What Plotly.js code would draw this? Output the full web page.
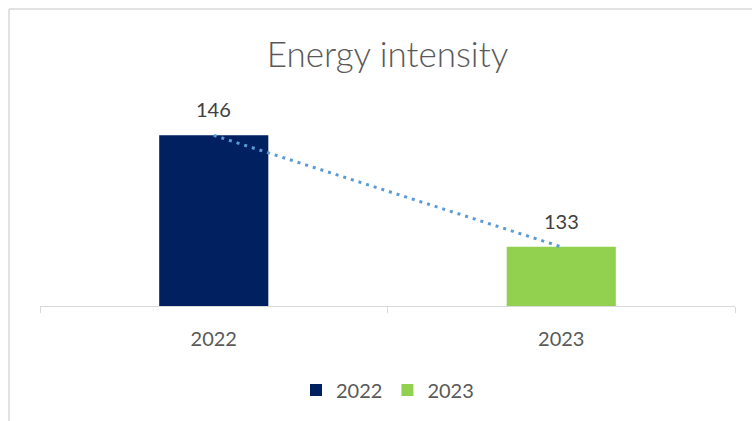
<!DOCTYPE html>
<html>
<head>
<meta charset="utf-8">
<script src="https://cdn.plot.ly/plotly-3.0.1.min.js"></script>
<style>
html,body{margin:0;padding:0;background:#fff;}
#chart{width:752px;height:421px;}
</style>
</head>
<body>
<div id="chart"></div>
<script>
const categories = ['2022', '2023'];
const values = [146, 133];
const barColors = ['#002060', '#92D050'];
const titleText = 'Energy intensity';

const FONT = 'Lato, "Open Sans", sans-serif';

const traces = categories.map((c, i) => ({
  type: 'bar',
  x: [c],
  y: [values[i]],
  name: c,
  marker: {color: barColors[i]},
  width: 0.314,
  hoverinfo: 'none'
}));

traces.push({
  type: 'scatter',
  mode: 'lines',
  x: categories,
  y: values,
  line: {color: '#5B9BD5', width: 3, dash: '3px,5px'},
  showlegend: false,
  hoverinfo: 'none'
});

const annotations = categories.map((c, i) => ({
  x: i, y: values[i], xref: 'x', yref: 'y',
  text: String(values[i]),
  showarrow: false,
  yshift: 26,
  font: {family: FONT, size: 20, color: '#404040'}
}));

const PT = 101, PB = 306, PL = 40, PR = 735;
const PH = PB - PT, PW = PR - PL;

const layout = {
  width: 752, height: 421,
  margin: {l: PL, r: 752 - PR, t: PT, b: 421 - PB},
  paper_bgcolor: '#ffffff',
  plot_bgcolor: '#ffffff',
  barmode: 'overlay',
  title: {
    text: titleText,
    font: {family: FONT, size: 35, color: '#595959', weight: 300},
    x: 0.5, xanchor: 'center', xref: 'paper',
    y: 1 - 55/421, yanchor: 'middle', yref: 'container'
  },
  xaxis: {
    type: 'category',
    categoryarray: categories,
    showline: true, linecolor: '#d9d9d9', linewidth: 1,
    ticks: 'outside', tickson: 'boundaries', ticklen: 6, tickcolor: '#d9d9d9',
    ticklabelstandoff: 15,
    tickfont: {family: FONT, size: 20, color: '#595959'},
    showgrid: false, zeroline: false,
    range: [-0.5, 1.5],
    fixedrange: true
  },
  yaxis: {
    range: [126.1, 150],
    showticklabels: false, ticks: '', showline: false,
    showgrid: false, zeroline: false,
    fixedrange: true
  },
  showlegend: true,
  legend: {
    orientation: 'h',
    x: 0.5, xanchor: 'center',
    y: (PB - 390) / PH, yanchor: 'middle',
    font: {family: FONT, size: 20, color: '#595959'},
    itemclick: false, itemdoubleclick: false
  },
  annotations: annotations,
  shapes: [
    {type: 'line', xref: 'paper', yref: 'paper',
     x0: (9 - PL) / PW, x1: (760 - PL) / PW, y0: (PB - 9) / PH, y1: (PB - 9) / PH,
     line: {color: '#d9d9d9', width: 1.5}},
    {type: 'line', xref: 'paper', yref: 'paper',
     x0: (9 - PL) / PW, x1: (9 - PL) / PW, y0: (PB - 9) / PH, y1: (PB - 430) / PH,
     line: {color: '#d9d9d9', width: 1.5}}
  ]
};

Plotly.newPlot('chart', traces, layout, {displayModeBar: false, staticPlot: true});
</script>
</body>
</html>
